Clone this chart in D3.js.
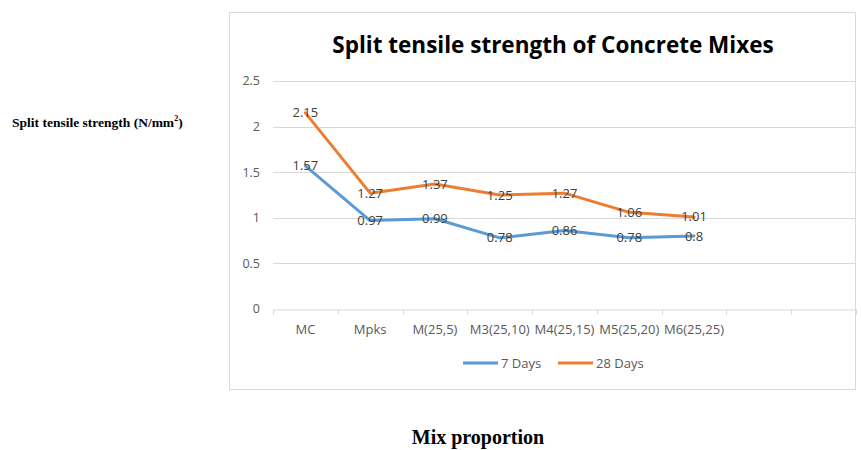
<!DOCTYPE html>
<html lang="en">
<head>
  <meta charset="UTF-8">
  <title>Split tensile strength</title>
  <style>
    body { margin: 0; background: #fff; }
    svg { display: block; }
  </style>
</head>
<body>
  <svg id="chart" width="861" height="450"></svg>
  <script src="https://d3js.org/d3.v7.min.js"></script>
  <script>
    const categories = ['MC', 'Mpks', 'M(25,5)', 'M3(25,10)', 'M4(25,15)', 'M5(25,20)', 'M6(25,25)', '', ' '];
    const days7 = [1.57, 0.97, 0.99, 0.78, 0.86, 0.78, 0.8];
    const days28 = [2.15, 1.27, 1.37, 1.25, 1.27, 1.06, 1.01];
    const yTicks = [0, 0.5, 1, 1.5, 2, 2.5];
    const series = [
      { name: '7 Days', values: days7, color: '#5b9bd5' },
      { name: '28 Days', values: days28, color: '#ed7d31' }
    ];

    const svg = d3.select('#chart');
    const font = "'Open Sans', 'Noto Sans', sans-serif";

    // chart frame
    svg.append('rect')
      .attr('x', 229.5).attr('y', 12.5).attr('width', 626).attr('height', 377)
      .attr('fill', '#fff').attr('stroke', '#d9d9d9');

    const x = d3.scaleBand().domain(categories).range([273, 856]);
    const y = d3.scaleLinear().domain([0, 2.5]).range([309, 81]);

    // gridlines
    svg.append('g')
      .selectAll('line')
      .data(yTicks.slice(1))
      .enter().append('line')
      .attr('x1', 273).attr('x2', 856)
      .attr('y1', d => Math.round(y(d)) + 0.5).attr('y2', d => Math.round(y(d)) + 0.5)
      .attr('stroke', '#d9d9d9');

    // y tick labels
    svg.append('g')
      .selectAll('text')
      .data(yTicks)
      .enter().append('text')
      .attr('x', 260).attr('y', d => y(d))
      .attr('dy', '0.35em')
      .attr('text-anchor', 'end')
      .attr('font-family', font).attr('font-size', 12.5).attr('fill', '#595959')
      .text(d => d);

    // x axis
    const xAxis = d3.axisBottom(x).tickSize(0).tickFormat(d => d.trim());
    const gx = svg.append('g').attr('transform', `translate(0,${Math.round(y(0)) + 0.5})`).call(xAxis);
    gx.select('.domain').attr('stroke', '#d9d9d9');
    gx.selectAll('text')
      .attr('font-family', font).attr('font-size', 13).attr('fill', '#595959')
      .attr('dy', 0).attr('y', 24);
    // category dividers
    gx.selectAll('.divider')
      .data(categories.concat(['end']))
      .enter().append('line')
      .attr('class', 'divider')
      .attr('x1', (d, i) => Math.round(273 + i * x.bandwidth()) + 0.5)
      .attr('x2', (d, i) => Math.round(273 + i * x.bandwidth()) + 0.5)
      .attr('y1', 0).attr('y2', 5)
      .attr('stroke', '#d9d9d9');

    const line = d3.line()
      .x((d, i) => x(categories[i]) + x.bandwidth() / 2)
      .y(d => y(d));

    series.forEach(s => {
      svg.append('path')
        .datum(s.values)
        .attr('d', line)
        .attr('fill', 'none')
        .attr('stroke', s.color)
        .attr('stroke-width', 3)
        .attr('stroke-linejoin', 'round')
        .attr('stroke-linecap', 'round');
    });

    // data labels, centred on the points
    series.forEach(s => {
      svg.append('g')
        .selectAll('text')
        .data(s.values)
        .enter().append('text')
        .attr('x', (d, i) => x(categories[i]) + x.bandwidth() / 2)
        .attr('y', d => y(d))
        .attr('dy', '0.35em')
        .attr('text-anchor', 'middle')
        .attr('font-family', font).attr('font-size', 13).attr('fill', '#404040')
        .text(d => d);
    });

    // title
    svg.append('text')
      .attr('x', 553).attr('y', 53)
      .attr('text-anchor', 'middle')
      .attr('font-family', font).attr('font-weight', 'bold').attr('font-size', 22.5).attr('fill', '#000')
      .text('Split tensile strength of Concrete Mixes');

    // legend
    const legend = svg.append('g').attr('transform', 'translate(463,363)');
    const lg = legend.selectAll('g')
      .data(series)
      .enter().append('g')
      .attr('transform', (d, i) => `translate(${i * 95},0)`);
    lg.append('line')
      .attr('x1', 0).attr('x2', 35).attr('y1', 0).attr('y2', 0)
      .attr('stroke', d => d.color).attr('stroke-width', 3);
    lg.append('text')
      .attr('x', 38).attr('dy', '0.35em')
      .attr('font-family', font).attr('font-size', 13).attr('fill', '#595959')
      .text(d => d.name);

    // outside axis titles
    const yTitle = svg.append('text')
      .attr('x', 12).attr('y', 127)
      .attr('font-family', "'Liberation Serif', serif").attr('font-weight', 'bold').attr('font-size', 13.5)
      .attr('fill', '#000');
    yTitle.append('tspan').text('Split tensile strength (N/mm');
    yTitle.append('tspan').attr('font-size', 8).attr('dy', -6).text('2');
    yTitle.append('tspan').attr('dy', 6).text(')');

    svg.append('text')
      .attr('x', 478).attr('y', 444)
      .attr('text-anchor', 'middle')
      .attr('font-family', "'Liberation Serif', serif").attr('font-weight', 'bold').attr('font-size', 20)
      .attr('fill', '#000')
      .text('Mix proportion');
  </script>
</body>
</html>
